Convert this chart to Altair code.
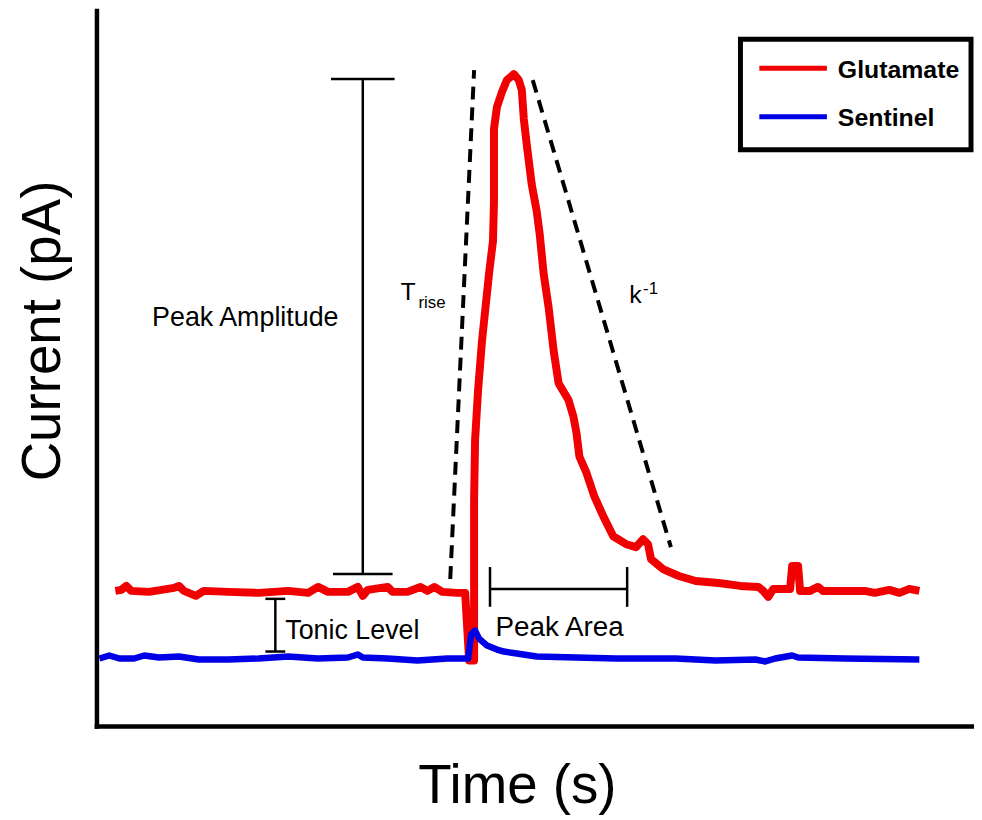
import altair as alt
import pandas as pd

# ---------------- data (time in s, current in pA; arbitrary units) ----------------
glu_t = [1.9, 2.5, 3.0, 3.5, 5.3, 7.8, 8.3, 8.8, 10.0, 10.8, 13.3, 16.3, 19.3, 21.3, 22.3,
         23.3, 25.3, 26.3, 26.8, 27.3, 29.3, 29.8, 31.3, 32.6, 33.3, 34.0, 34.8, 36.3, 37.1,
         37.5, 38.0, 38.0, 38.1, 38.4, 38.8, 39.5, 39.9, 40.0, 40.0, 40.3, 40.8, 41.3, 42.0,
         42.5, 42.8, 43.0, 43.3, 43.8, 44.3, 44.6, 45.0, 45.5, 46.0, 46.5, 47.5, 48.0, 48.3,
         48.6, 49.3, 50.1, 51.0, 52.0, 53.3, 54.3, 55.0, 55.5, 55.8, 57.0, 58.6, 60.3, 62.6,
         64.8, 66.6, 67.1, 67.6, 68.1, 69.8, 70.0, 70.6, 70.8, 71.8, 72.6, 73.1, 77.3, 78.3,
         79.8, 80.8, 81.8, 82.8]
glu_c = [13.6, 13.7, 14.1, 13.6, 13.5, 13.9, 14.1, 13.6, 13.1, 13.6, 13.5, 13.4, 13.6, 13.4, 14.0,
         13.5, 13.5, 14.0, 13.1, 13.7, 14.0, 13.5, 13.5, 14.0, 13.6, 14.0, 13.5, 13.4, 13.4,
         6.6, 6.6, 22.8, 28.8, 33.8, 38.8, 45.5, 48.8, 52.8, 60.1, 62.3, 63.8, 65.0, 65.6,
         65.0, 64.0, 61.1, 58.5, 54.5, 51.8, 49.5, 45.5, 42.1, 37.8, 34.5, 32.8, 31.1, 29.5,
         27.1, 25.5, 23.1, 21.1, 19.1, 18.3, 18.0, 18.8, 18.3, 16.8, 15.8, 15.1, 14.6, 14.4,
         14.1, 14.0, 13.6, 13.0, 13.8, 13.8, 16.1, 16.1, 13.6, 13.6, 14.0, 13.6, 13.6, 13.4,
         13.7, 13.4, 13.8, 13.6]

sen_t = [0.3, 1.3, 2.3, 3.8, 4.8, 6.3, 8.3, 10.3, 13.3, 16.3, 19.3, 22.3, 25.3, 26.3, 26.8,
         29.3, 32.3, 35.3, 37.4, 37.7, 38.1, 38.5, 39.3, 40.3, 41.0, 42.3, 44.3, 48.3, 52.3,
         58.3, 62.3, 66.3, 67.3, 68.3, 70.0, 70.6, 75.3, 82.8]
sen_c = [6.8, 7.1, 6.8, 6.8, 7.1, 6.9, 7.0, 6.7, 6.7, 6.8, 7.0, 6.8, 6.9, 7.2, 6.9,
         6.8, 6.6, 6.8, 6.8, 9.2, 9.6, 8.8, 8.1, 7.7, 7.5, 7.3, 7.0, 6.9, 6.8,
         6.8, 6.6, 6.7, 6.5, 6.8, 7.1, 6.9, 6.8, 6.7]

series_names = ["Glutamate", "Sentinel"]
series_colors = ["#f00000", "#0000e6"]

# dashed guide lines (T_rise and k^-1)
guide_id = ["rise", "rise", "decay", "decay"]
guide_t = [38.0, 35.6, 43.9, 57.8]
guide_c = [66.0, 14.8, 65.0, 18.0]

# bracket segments: t, t2, c, c2
br_t = [26.8, 23.6, 23.8, 18.0, 17.0, 17.0, 39.6, 39.6, 53.4]
br_t2 = [26.8, 30.0, 29.8, 18.0, 19.0, 19.0, 53.4, 39.6, 53.4]
br_c = [65.1, 65.1, 15.3, 12.8, 12.8, 7.5, 13.8, 16.0, 16.0]
br_c2 = [15.3, 65.1, 15.3, 7.5, 12.8, 7.5, 13.8, 12.0, 12.0]

# annotation labels
big_labels = ["Peak Amplitude", "Tonic Level"]
big_t = [5.6, 19.0]
big_c = [40.3, 8.8]
area_label = ["Peak Area"]
area_t = [46.6]
area_c = [9.1]
main_sym = ["T", "k"]
main_t = [30.6, 53.6]
main_c = [42.9, 42.6]
sub_sym = ["rise", "-1"]
sub_t = [32.4, 55.0]
sub_c = [42.1, 43.5]

# legend box
leg_box_t, leg_box_t2 = [64.8], [88.0]
leg_box_c, leg_box_c2 = [69.1], [58.0]
leg_line_t, leg_line_t2 = [66.7, 66.7], [73.5, 73.5]
leg_line_c = [66.2, 61.3]
leg_text_t = [74.6, 74.6]
leg_text_c = [66.0, 61.2]

# ---------------- tables ----------------
traces = pd.concat([
    pd.DataFrame({"t": glu_t, "c": glu_c, "series": "Glutamate", "o": range(len(glu_t))}),
    pd.DataFrame({"t": sen_t, "c": sen_c, "series": "Sentinel", "o": range(len(sen_t))}),
])
guides = pd.DataFrame({"g": guide_id, "t": guide_t, "c": guide_c})
brackets = pd.DataFrame({"t": br_t, "t2": br_t2, "c": br_c, "c2": br_c2})
big_df = pd.DataFrame({"label": big_labels, "t": big_t, "c": big_c})
area_df = pd.DataFrame({"label": area_label, "t": area_t, "c": area_c})
main_df = pd.DataFrame({"label": main_sym, "t": main_t, "c": main_c})
sub_df = pd.DataFrame({"label": sub_sym, "t": sub_t, "c": sub_c})
box_df = pd.DataFrame({"t": leg_box_t, "t2": leg_box_t2, "c": leg_box_c, "c2": leg_box_c2})
leg_lines = pd.DataFrame({"series": series_names, "t": leg_line_t, "t2": leg_line_t2, "c": leg_line_c})
leg_text = pd.DataFrame({"series": series_names, "t": leg_text_t, "c": leg_text_c})

xs = alt.Scale(domain=[0, 88.3], nice=False, zero=False)
ys = alt.Scale(domain=[0, 72], nice=False, zero=False)
cs = alt.Scale(domain=series_names, range=series_colors)

def X(f="t"):
    return alt.X(f + ":Q", scale=xs, title="Time (s)")

def Y(f="c"):
    return alt.Y(f + ":Q", scale=ys, title="Current (pA)")

FONT = "Liberation Sans"

bracket_layer = alt.Chart(brackets).mark_rule(color="black", strokeWidth=2.5).encode(
    x=X(), x2="t2:Q", y=Y(), y2="c2:Q")

guide_layer = alt.Chart(guides).mark_line(
    color="black", strokeWidth=4, strokeDash=[13, 8], strokeCap="butt").encode(
    x=X(), y=Y(), detail="g:N")

glu_layer = alt.Chart(traces).transform_filter(alt.datum.series == "Glutamate").mark_line(
    strokeWidth=8, strokeJoin="round").encode(
    x=X(), y=Y(), order="o:Q", color=alt.Color("series:N", scale=cs, legend=None))

sen_layer = alt.Chart(traces).transform_filter(alt.datum.series == "Sentinel").mark_line(
    strokeWidth=6.5, strokeJoin="round").encode(
    x=X(), y=Y(), order="o:Q", color=alt.Color("series:N", scale=cs, legend=None))

big_layer = alt.Chart(big_df).mark_text(
    font=FONT, fontSize=27, align="left", baseline="alphabetic", color="black").encode(
    x=X(), y=Y(), text="label:N")

area_layer = alt.Chart(area_df).mark_text(
    font=FONT, fontSize=28, align="center", baseline="alphabetic", color="black").encode(
    x=X(), y=Y(), text="label:N")

main_layer = alt.Chart(main_df).mark_text(
    font=FONT, fontSize=25, align="left", baseline="alphabetic", color="black").encode(
    x=X(), y=Y(), text="label:N")

sub_layer = alt.Chart(sub_df).mark_text(
    font=FONT, fontSize=17, align="left", baseline="alphabetic", color="black").encode(
    x=X(), y=Y(), text="label:N")

box_layer = alt.Chart(box_df).mark_rect(
    fill="white", stroke="black", strokeWidth=5).encode(
    x=X(), x2="t2:Q", y=Y(), y2="c2:Q")

leg_line_layer = alt.Chart(leg_lines).mark_rule(strokeWidth=5).encode(
    x=X(), x2="t2:Q", y=Y(), color=alt.Color("series:N", scale=cs, legend=None))

leg_text_layer = alt.Chart(leg_text).mark_text(
    font=FONT, fontSize=25, fontWeight="bold", align="left", baseline="middle", color="black").encode(
    x=X(), y=Y(), text="series:N")

chart = alt.layer(
    bracket_layer, guide_layer, glu_layer, sen_layer,
    big_layer, area_layer, main_layer, sub_layer,
    box_layer, leg_line_layer, leg_text_layer,
).properties(
    width=883, height=720,
    autosize=alt.AutoSizeParams(type="none"),
    padding={"left": 89, "top": 0, "right": 0, "bottom": 92},
    background="white",
).configure_view(stroke=None).configure_axis(
    domainColor="black", domainWidth=4.5, domainCap="square",
    ticks=False, labels=False, grid=False,
    titleFont=FONT, titleFontSize=55, titleFontWeight="normal", titleColor="black",
    titlePadding=0,
).configure_axisX(
    titleX=423, titleY=77, titleAlign="center", titleBaseline="alphabetic", titleAngle=0,
).configure_axisY(
    titleX=-37, titleY=322, titleAlign="center", titleBaseline="alphabetic", titleAngle=270,
)

chart.save("out.html", embed_options={"renderer": "svg", "actions": False})
